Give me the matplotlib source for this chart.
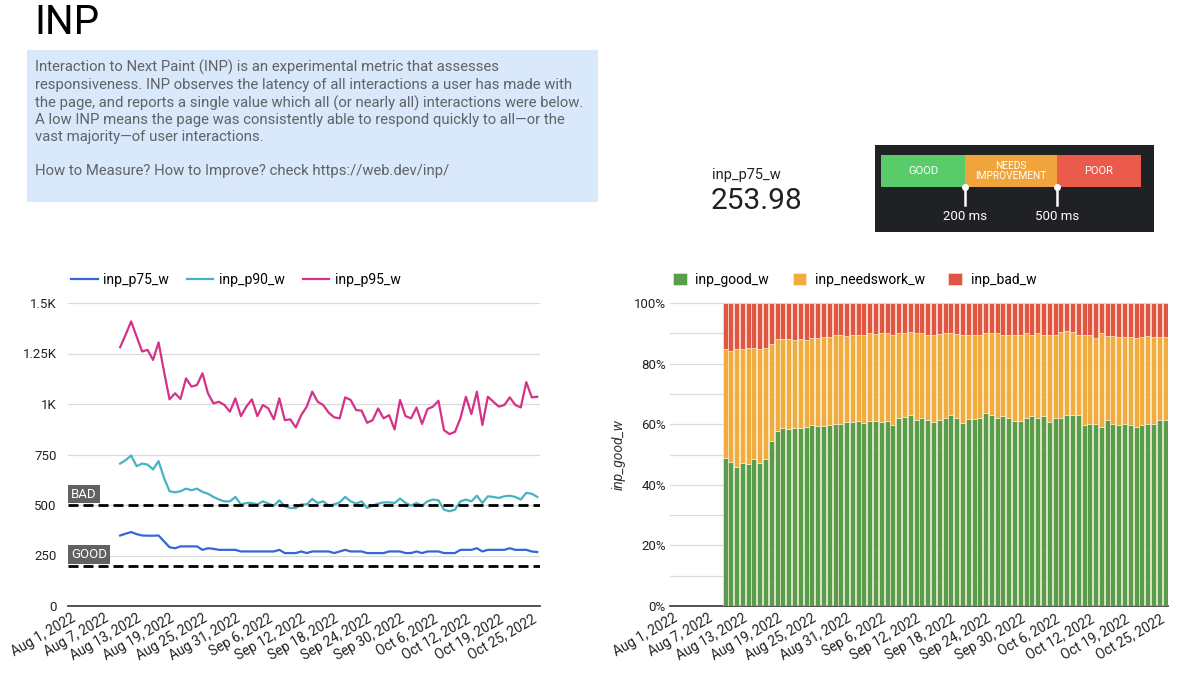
import matplotlib
matplotlib.use('Agg')
import matplotlib.pyplot as plt
from matplotlib.patches import Rectangle
from matplotlib import transforms
import pandas as pd

plt.rcParams['font.family'] = ['Roboto', 'DejaVu Sans']

# Categories (one day missing in the source data between Oct 12 and Oct 19)
dates = pd.date_range('2022-08-01', '2022-10-26')
dates = dates[dates != pd.Timestamp('2022-10-16')]
date_labels = [f"{d.strftime('%b')} {d.day}, {d.year}" for d in dates]
first_idx = 9  # data starts Aug 10

# INP percentiles (ms)
inp_p75_w = [349, 358, 366, 356, 349, 348, 348, 349, 320, 291, 286, 295, 295, 295, 295, 278, 286, 283, 278, 278,
             278, 278, 270, 270, 270, 270, 270, 270, 270, 278, 262, 262, 262, 270, 262, 270, 270, 270, 270, 262,
             270, 278, 270, 270, 270, 262, 262, 262, 262, 270, 270, 270, 262, 262, 270, 262, 270, 270, 270, 262,
             262, 262, 278, 278, 278, 286, 270, 278, 278, 278, 278, 286, 278, 278, 278, 270, 267]
inp_p90_w = [705, 722, 745, 692, 705, 700, 676, 717, 634, 568, 563, 568, 581, 573, 581, 565, 556, 540, 527, 518,
             518, 540, 503, 510, 510, 503, 518, 507, 497, 523, 493, 485, 485, 503, 503, 530, 510, 518, 498, 503,
             513, 540, 518, 507, 518, 485, 497, 507, 513, 513, 510, 532, 510, 497, 510, 497, 518, 527, 523, 477,
             469, 477, 518, 527, 518, 546, 510, 543, 540, 535, 543, 546, 540, 527, 560, 556, 540]
inp_p95_w = [1281, 1343, 1409, 1334, 1260, 1268, 1218, 1305, 1160, 1023, 1053, 1025, 1127, 1086, 1094, 1152, 1053,
             1003, 1011, 995, 962, 1028, 940, 987, 1023, 940, 995, 978, 924, 1028, 920, 924, 884, 945, 987, 1061,
             1011, 995, 957, 934, 929, 1033, 1020, 970, 967, 907, 920, 978, 929, 945, 874, 1020, 940, 929, 983,
             901, 975, 987, 1016, 871, 851, 862, 929, 1036, 950, 1061, 896, 1036, 1011, 987, 995, 1033, 995, 983,
             1108, 1033, 1036]

# INP distribution (% of page loads)
inp_good_w = [48.7, 47.6, 46.0, 47.3, 47.0, 48.4, 47.3, 48.4, 54.6, 57.8, 58.6, 58.3, 58.6, 58.6, 59.0, 59.7, 59.4,
              59.4, 59.7, 60.0, 60.0, 60.6, 60.6, 61.0, 60.5, 61.0, 61.0, 60.7, 61.0, 59.7, 61.9, 62.5, 63.0, 61.4,
              62.2, 61.4, 60.8, 61.4, 62.2, 62.9, 62.2, 60.5, 61.8, 61.8, 62.2, 63.6, 62.9, 62.2, 62.6, 62.0, 61.2,
              61.2, 62.1, 62.8, 62.0, 62.6, 60.8, 61.9, 61.9, 63.0, 63.0, 63.0, 59.7, 60.2, 60.2, 59.2, 61.4, 60.0,
              59.7, 60.0, 59.7, 59.2, 59.7, 60.2, 60.2, 61.4, 61.4]
inp_needswork_w = [36.0, 36.6, 38.7, 37.4, 38.1, 36.7, 37.6, 36.7, 31.8, 30.2, 29.5, 29.8, 29.2, 29.5, 28.8, 28.6,
                   29.1, 29.5, 29.2, 29.4, 29.4, 28.6, 29.0, 28.6, 29.1, 29.0, 28.8, 29.3, 29.2, 29.7, 28.3, 27.7,
                   27.5, 28.8, 27.8, 28.0, 28.6, 28.4, 27.8, 27.1, 27.6, 28.9, 27.6, 27.6, 27.4, 26.6, 27.3, 27.8,
                   27.0, 27.6, 28.2, 28.4, 28.1, 26.8, 28.2, 27.0, 28.8, 27.7, 28.6, 27.9, 27.5, 26.4, 29.7, 29.2,
                   28.3, 30.8, 27.8, 29.2, 29.2, 28.9, 29.2, 29.3, 29.2, 28.9, 28.5, 27.3, 27.5]
inp_bad_w = [15.3, 15.8, 15.3, 15.3, 14.9, 14.9, 15.1, 14.9, 13.6, 12.0, 11.9, 11.9, 12.2, 11.9, 12.2, 11.7, 11.5,
             11.1, 11.1, 10.6, 10.6, 10.8, 10.4, 10.4, 10.4, 10.0, 10.2, 10.0, 9.8, 10.6, 9.8, 9.8, 9.5, 9.8, 10.0,
             10.6, 10.6, 10.2, 10.0, 10.0, 10.2, 10.6, 10.6, 10.6, 10.4, 9.8, 9.8, 10.0, 10.4, 10.4, 10.6, 10.4,
             9.8, 10.4, 9.8, 10.4, 10.4, 10.4, 9.5, 9.1, 9.5, 10.6, 10.6, 10.6, 11.5, 10.0, 10.8, 10.8, 11.1, 11.1,
             11.1, 11.5, 11.1, 10.9, 11.3, 11.3, 11.1]

inp_p75_total = 253.98
thresholds = [200, 500]

x = list(range(first_idx, first_idx + len(inp_p75_w)))
tick_pos = list(range(0, len(date_labels), 6))
tick_lab = [date_labels[i] for i in tick_pos]

fig = plt.figure(figsize=(12, 6.83), dpi=100)
W, H = 1200, 683

def fx(px):
    return px / W

def fy(py):
    return 1 - py / H

# Header
fig.text(fx(34), fy(22), 'INP', fontsize=29, color='#000000', va='center', ha='left')
fig.patches.append(Rectangle((fx(27), fy(202)), fx(571), 152 / H, transform=fig.transFigure,
                             facecolor='#d9e8fa', edgecolor='none', zorder=0))
desc = ("Interaction to Next Paint (INP) is an experimental metric that assesses\n"
        "responsiveness. INP observes the latency of all interactions a user has made with\n"
        "the page, and reports a single value which all (or nearly all) interactions were below.\n"
        "A low INP means the page was consistently able to respond quickly to all\u2014or the\n"
        "vast majority\u2014of user interactions.\n"
        "\n"
        "How to Measure? How to Improve? check https://web.dev/inp/")
fig.text(fx(35), fy(60), desc, fontsize=10.7, color='#5f6368', va='top', ha='left', linespacing=1.26)

# Scorecard
fig.text(fx(712), fy(175), 'inp_p75_w', fontsize=10.5, color='#202124', va='center')
fig.text(fx(711), fy(201), f'{inp_p75_total:.2f}', fontsize=21.5, color='#202124', va='center')

# Threshold graphic
axt = fig.add_axes([fx(875), fy(232), fx(279), 87 / H])
axt.set_xlim(0, 279)
axt.set_ylim(87, 0)
axt.axis('off')
axt.add_patch(Rectangle((0, 0), 279, 87, facecolor='#202124', edgecolor='none'))
seg = [(6, 90, '#5acb6b', 'GOOD', 8), (90, 182, '#f0a43c', 'NEEDS\nIMPROVEMENT', 7.3),
       (182, 266, '#eb5b4c', 'POOR', 8)]
for x0, x1, c, t, fs in seg:
    axt.add_patch(Rectangle((x0, 10), x1 - x0, 32, facecolor=c, edgecolor='none'))
    axt.text((x0 + x1) / 2, 26, t, color='white', fontsize=fs, ha='center', va='center', linespacing=1.1)
for xm, th in zip([90, 182], thresholds):
    axt.plot([xm, xm], [42, 60], color='white', lw=1.8)
    axt.plot(xm, 42, 'o', color='white', ms=4)
    axt.text(xm, 71, f'{th} ms', color='white', fontsize=9.5, ha='center', va='center')

# Left: line chart
ax1 = fig.add_axes([fx(68), fy(606), fx(472), 303 / H])
ax1.plot(x, inp_p75_w, color='#3366d6', lw=1.6, label='inp_p75_w', zorder=3)
ax1.plot(x, inp_p90_w, color='#46b3c3', lw=1.6, label='inp_p90_w', zorder=3)
ax1.plot(x, inp_p95_w, color='#d6318a', lw=1.6, label='inp_p95_w', zorder=3)
ax1.set_xlim(-0.5, len(date_labels) - 0.5)
ax1.set_ylim(0, 1500)
yt = [0, 250, 500, 750, 1000, 1250, 1500]
ax1.set_yticks(yt)
ax1.set_yticklabels(['0', '250', '500', '750', '1K', '1.25K', '1.5K'])
ax1.grid(axis='y', color='#dadada', lw=0.9)
ax1.set_axisbelow(True)
for th, name in zip(thresholds, ['GOOD', 'BAD']):
    ax1.axhline(th, color='black', lw=2, dashes=(3.6, 1.8), zorder=4)
    trans = transforms.blended_transform_factory(ax1.transAxes, ax1.transData)
    ax1.text(0.007, th + 22, name, transform=trans, color='white', fontsize=9.5, ha='left', va='bottom',
             bbox=dict(facecolor='#616161', edgecolor='none', boxstyle='square,pad=0.22'), zorder=5)
ax1.legend(loc='lower left', bbox_to_anchor=(-0.005, 1.035), ncol=3, frameon=False, fontsize=10,
           handlelength=1.9, columnspacing=1.3, handletextpad=0.4, borderaxespad=0)

# Right: stacked bar chart
ax2 = fig.add_axes([fx(670), fy(606), fx(498), 303 / H])
bot2 = [g + n for g, n in zip(inp_good_w, inp_needswork_w)]
ax2.bar(x, inp_good_w, width=0.86, color='#589c4c', edgecolor='#fbf3dc', lw=0.4, label='inp_good_w', zorder=3)
ax2.bar(x, inp_needswork_w, bottom=inp_good_w, width=0.86, color='#f0ac3f', edgecolor='#fbf3dc', lw=0.4,
        label='inp_needswork_w', zorder=3)
ax2.bar(x, inp_bad_w, bottom=bot2, width=0.86, color='#e05544', edgecolor='#fbf3dc', lw=0.4,
        label='inp_bad_w', zorder=3)
ax2.set_xlim(-0.5, len(date_labels) - 0.5)
ax2.set_ylim(0, 100)
ax2.set_yticks([0, 20, 40, 60, 80, 100])
ax2.set_yticklabels([f'{v}%' for v in [0, 20, 40, 60, 80, 100]])
ax2.set_yticks([10, 30, 50, 70, 90], minor=True)
ax2.tick_params(axis='y', which='minor', length=0)
ax2.grid(axis='y', which='both', color='#dadada', lw=0.9)
ax2.set_axisbelow(True)
ax2.set_ylabel('inp_good_w', fontsize=10, style='italic', color='#333333', labelpad=6)
ax2.legend(loc='lower left', bbox_to_anchor=(-0.005, 1.035), ncol=3, frameon=False, fontsize=10,
           handlelength=1.0, handleheight=1.0, columnspacing=1.7, handletextpad=0.6, borderaxespad=0)

for ax in (ax1, ax2):
    for s in ['top', 'right', 'left']:
        ax.spines[s].set_visible(False)
    ax.spines['bottom'].set_color('#333333')
    ax.spines['bottom'].set_linewidth(1.2)
    ax.set_xticks(tick_pos)
    ax.set_xticklabels(tick_lab, rotation=30, ha='right', rotation_mode='anchor', fontsize=9.8, color='#222222')
    ax.tick_params(axis='x', length=0, pad=4)
    ax.tick_params(axis='y', length=0, labelsize=9.5, labelcolor='#222222')
ax1.tick_params(axis='y', pad=8)
ax2.tick_params(axis='y', pad=3)

fig.savefig('out.png', dpi=100, facecolor='white')
